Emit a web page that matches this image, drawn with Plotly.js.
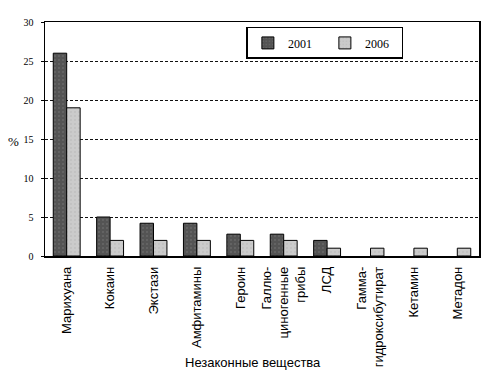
<!DOCTYPE html>
<html>
<head>
<meta charset="utf-8">
<script src="https://cdn.plot.ly/plotly-3.0.1.min.js"></script>
<style>html,body{margin:0;padding:0;background:#fff;}#chart{width:493px;height:380px;}</style>
</head>
<body>
<div id="chart"></div>
<script>
const categories = ["Марихуана","Кокаин","Экстази","Амфитамины","Героин","Галлю-<br>циногенные<br>грибы","ЛСД","Гамма-<br>гидроксибутират","Кетамин","Метадон"];
const values2001 = [26, 5, 4.2, 4.2, 2.8, 2.8, 2, null, null, null];
const values2006 = [19, 2, 2, 2, 2, 2, 1, 1, 1, 1];
const seriesNames = ["2001", "2006"];
const yTicks = [0, 5, 10, 15, 20, 25, 30];
const xTitle = "Незаконные вещества";
const yTitle = "%";

const traces = [
  {type:'bar', name:seriesNames[0], x:categories, y:values2001,
   marker:{color:'#545454', line:{color:'#000', width:1},
     pattern:{shape:'.', fgcolor:'#7a7a7a', bgcolor:'#545454', size:4, solidity:0.1}}},
  {type:'bar', name:seriesNames[1], x:categories, y:values2006,
   marker:{color:'#cbcbcb', line:{color:'#000', width:1},
     pattern:{shape:'.', fgcolor:'#b5b5b5', bgcolor:'#cbcbcb', size:4, solidity:0.1}}}
];

const layout = {
  width:493, height:380,
  margin:{l:45, r:14, t:22, b:124},
  paper_bgcolor:'#fff', plot_bgcolor:'#fff',
  barmode:'group', bargap:0.38, bargroupgap:0,
  showlegend:true,
  legend:{orientation:'h', x:0.464, y:0.979, xanchor:'left', yanchor:'top',
    bordercolor:'#000', borderwidth:1.5, bgcolor:'#fff',
    font:{family:'Liberation Serif, Times New Roman, serif', size:12, color:'#000'},
    entrywidth:32, traceorder:'normal'},
  xaxis:{type:'category', showline:true, mirror:true, linecolor:'#000', linewidth:1.5,
    ticks:'', tickangle:-90, ticklabelstandoff:4,
    tickfont:{family:'Liberation Sans, Arial, sans-serif', size:13, color:'#000'},
    automargin:false},
  yaxis:{range:[0,30], tickvals:yTicks, ticktext:yTicks.map(String),
    showline:true, mirror:true, linecolor:'#000', linewidth:1.5,
    ticks:'outside', ticklen:3, tickcolor:'#000', ticklabelstandoff:5,
    showgrid:true, gridcolor:'#111', gridwidth:1, griddash:'3px,2px',
    zeroline:false,
    tickfont:{family:'Liberation Serif, Times New Roman, serif', size:10, color:'#000'},
    automargin:false},
  annotations:[
    {text:xTitle, xref:'paper', yref:'paper', x:0.48, y:-0.455, xanchor:'center', yanchor:'middle',
     showarrow:false, font:{family:'Liberation Sans, Arial, sans-serif', size:13, color:'#000'}},
    {text:yTitle, xref:'paper', yref:'paper', x:-0.072, y:0.49, xanchor:'center', yanchor:'middle',
     showarrow:false, font:{family:'Liberation Serif, Times New Roman, serif', size:13, color:'#000'}}
  ]
};

Plotly.newPlot('chart', traces, layout, {displayModeBar:false, staticPlot:true});
</script>
</body>
</html>
